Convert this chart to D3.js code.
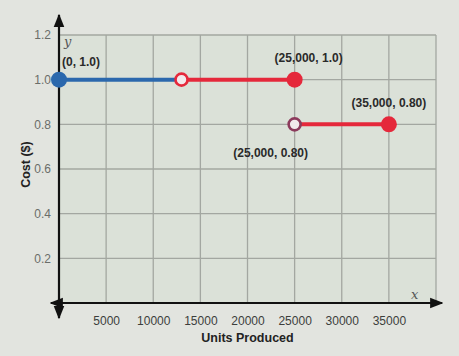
<!DOCTYPE html>
<html><head><meta charset="utf-8">
<script src="https://cdn.jsdelivr.net/npm/d3@7"></script>
<style>body{margin:0;background:#e2e4df;}svg{display:block;}</style>
</head><body>
<script>
const xTicks = [5000,10000,15000,20000,25000,30000,35000];
const yTicks = [0.2,0.4,0.6,0.8,1.0,1.2];
const yTickLabels = ["0.2","0.4","0.6","0.8","1.0","1.2"];
const segX0 = [0, 13000, 25000];
const segX1 = [13000, 25000, 35000];
const segY = [1.0, 1.0, 0.8];
const segColor = ["#2b68ad", "#e5283b", "#e5283b"];
const ptX = [0, 13000, 25000, 25000, 35000];
const ptY = [1.0, 1.0, 1.0, 0.8, 0.8];
const ptOpen = [false, true, false, true, false];
const ptColor = ["#2b68ad", "#e5283b", "#e5283b", "#8c3a5c", "#e5283b"];
const labelText = ["(0, 1.0)", "(25,000,  1.0)", "(35,000,  0.80)", "(25,000,  0.80)"];
const labelX = [0, 25000, 35000, 25000];
const labelY = [1.0, 1.0, 0.8, 0.8];

const W=459,H=356;
const svg=d3.select("body").append("svg").attr("width",W).attr("height",H);
const x=d3.scaleLinear().domain([0,40000]).range([59,436]);
const y=d3.scaleLinear().domain([0,1.2]).range([303,35]);

svg.append("rect").attr("x",x(0)).attr("y",y(1.2)).attr("width",x(40000)-x(0)).attr("height",y(0)-y(1.2)).attr("fill","#dbe1d8");

// grid
const g=svg.append("g");
g.selectAll("line.v").data(xTicks.concat([40000])).join("line")
 .attr("x1",d=>x(d)).attr("x2",d=>x(d)).attr("y1",y(1.2)).attr("y2",y(0))
 .attr("stroke","#a3a7a1").attr("stroke-width",1.3);
g.selectAll("line.h").data(yTicks).join("line")
 .attr("x1",x(0)).attr("x2",x(40000)).attr("y1",d=>y(d)).attr("y2",d=>y(d))
 .attr("stroke","#a3a7a1").attr("stroke-width",1.3);

// axes
const yAxis=d3.axisLeft(y).tickValues(yTicks).tickFormat((d,i)=>yTickLabels[i]).tickSize(0).tickPadding(6);
const ya=svg.append("g").attr("transform",`translate(${x(0)-2},0)`).call(yAxis);
ya.select(".domain").remove();
ya.selectAll("text").attr("font-family","Liberation Sans, Arial, sans-serif").attr("font-size",12).attr("fill","#6a6d69");
const xAxis=d3.axisBottom(x).tickValues(xTicks).tickFormat(d3.format("d")).tickSize(0).tickPadding(13);
const xa=svg.append("g").attr("transform",`translate(0,${y(0)})`).call(xAxis);
xa.select(".domain").remove();
xa.selectAll("text").attr("font-family","Liberation Sans, Arial, sans-serif").attr("font-size",12).attr("fill","#3c3e3c");

// axis lines with arrows
const defs=svg.append("defs");
defs.append("marker").attr("id","arr").attr("viewBox","0 0 10 10").attr("refX",9).attr("refY",5)
 .attr("markerWidth",6).attr("markerHeight",6).attr("orient","auto-start-reverse")
 .append("path").attr("d","M0,1 L10,5 L0,9 Z").attr("fill","#111");
svg.append("line").attr("x1",x(0)-8).attr("x2",x(40000)+6).attr("y1",y(0)).attr("y2",y(0))
 .attr("stroke","#111").attr("stroke-width",2.2).attr("marker-start","url(#arr)").attr("marker-end","url(#arr)");
svg.append("line").attr("x1",x(0)).attr("x2",x(0)).attr("y1",y(0)+15).attr("y2",y(1.2)-20)
 .attr("stroke","#111").attr("stroke-width",2.2).attr("marker-start","url(#arr)").attr("marker-end","url(#arr)");

svg.append("text").attr("x",x(0)+5).attr("y",y(1.2)+11).text("y")
 .attr("font-family","DejaVu Serif, serif").attr("font-style","italic").attr("font-size",13).attr("fill","#555");
svg.append("text").attr("x",x(40000)-25).attr("y",y(0)-4).text("x")
 .attr("font-family","DejaVu Serif, serif").attr("font-style","italic").attr("font-size",13).attr("fill","#555");

svg.append("text").attr("x",x(20000)).attr("y",342).attr("text-anchor","middle").text("Units Produced")
 .attr("font-family","Liberation Sans, Arial, sans-serif").attr("font-weight","bold").attr("font-size",12.5).attr("fill","#222");
svg.append("text").attr("transform",`translate(30,${y(0.62)}) rotate(-90)`).attr("text-anchor","middle").text("Cost ($)")
 .attr("font-family","Liberation Sans, Arial, sans-serif").attr("font-weight","bold").attr("font-size",12.5).attr("fill","#222");

// segments
svg.selectAll("line.seg").data(segX0).join("line")
 .attr("x1",(d,i)=>x(d)).attr("x2",(d,i)=>x(segX1[i])).attr("y1",(d,i)=>y(segY[i])).attr("y2",(d,i)=>y(segY[i]))
 .attr("stroke",(d,i)=>segColor[i]).attr("stroke-width",4);

// points
svg.selectAll("circle.pt").data(ptX).join("circle")
 .attr("cx",d=>x(d)).attr("cy",(d,i)=>y(ptY[i]))
 .attr("r",(d,i)=>ptOpen[i]?6:8)
 .attr("fill",(d,i)=>ptOpen[i]?"#f2e9ec":ptColor[i])
 .attr("stroke",(d,i)=>ptColor[i]).attr("stroke-width",(d,i)=>ptOpen[i]?2.6:0);

// labels
const ldx=[3,14,0,-24], ldy=[-14,-18,-17,33], anch=["start","middle","middle","middle"];
svg.selectAll("text.lbl").data(labelText).join("text")
 .attr("x",(d,i)=>x(labelX[i])+ldx[i]).attr("y",(d,i)=>y(labelY[i])+ldy[i]).attr("text-anchor",(d,i)=>anch[i])
 .text(d=>d).attr("font-family","Liberation Sans, Arial, sans-serif").attr("font-weight","bold").attr("font-size",12).attr("fill","#2a2a2a");
</script>
</body></html>
